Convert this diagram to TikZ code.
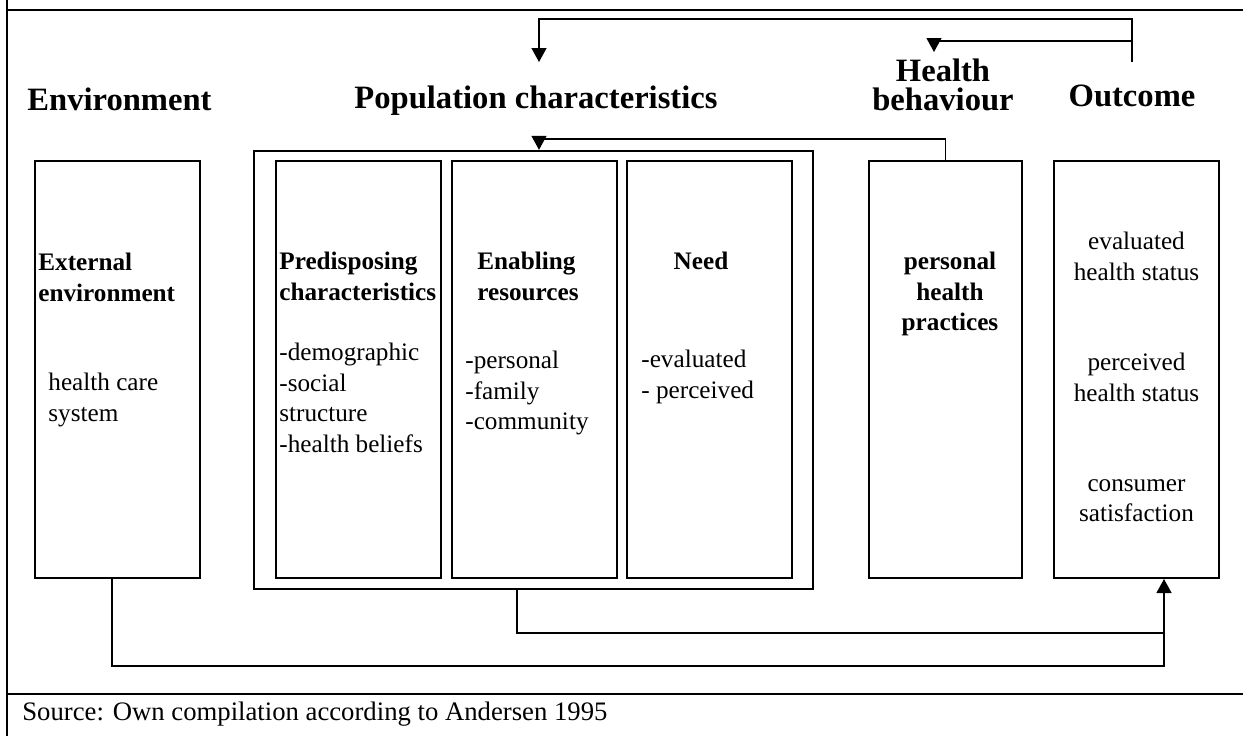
\documentclass[tikz,border=0pt]{standalone}
\usepackage{fontspec}
\setmainfont{Liberation Serif}
\usetikzlibrary{arrows.meta, positioning}

\tikzset{
  colbox/.style={draw, line width=1pt, minimum width=82.5pt, minimum height=208.5pt, inner sep=0pt},
  hdr/.style={font=\fontsize{16.3}{14.6}\selectfont\bfseries, inner sep=0pt, align=center, anchor=north},
  ttl/.style={font=\fontsize{12.6}{15.2}\selectfont\bfseries, inner sep=0pt},
  txt/.style={font=\fontsize{12.6}{15.2}\selectfont, inner sep=0pt},
  link/.style={line width=0.65pt}
}

\begin{document}
\begin{tikzpicture}[x=0.5pt, y=-0.5pt, >={Triangle[width=7.5pt,length=7pt]}]
		\useasboundingbox (0,0) rectangle (1243,736);
		% table frame
		\draw[line width=1pt] (7,0) -- (7,736) (7,10) -- (1243,10) (7,694) -- (1243,694);

		\draw (533.5,370) node[colbox, line width=1.2pt, minimum width=279.5pt, minimum height=219pt] (pop) {}
		(117.5,369.5) node[colbox] (envbox) {}
		(358.5,369.5) node[colbox] (predbox) {}
		(534,369.5) node[colbox] (enabbox) {}
		(709.5,369.5) node[colbox] (needbox) {}
		(945.5,369.5) node[colbox, minimum width=76.5pt] (hbbox) {}
		(1136.5,369.5) node[colbox] (outbox) {};

		\draw (119.5,87.3) node[hdr] (envttl) {Environment}
		(536,85.3) node[hdr] (popttl) {Population characteristics}
		(943,58.3) node[hdr] (hbttl) {Health\\behaviour}
		(1132,84.3) node[hdr] (outttl) {Outcome};

		\draw (38,253) node[ttl, anchor=north west, align=left] (envhead) {External\\environment}
		(48,373) node[txt, anchor=north west, align=left] (envlist) {health care\\system}
		(279,252) node[ttl, anchor=north west, align=left] (predhead) {Predisposing\\characteristics}
		(279,343) node[txt, anchor=north west, align=left] (predlist) {-demographic\\-social\\structure\\-health beliefs}
		(477,252) node[ttl, anchor=north west, align=left] (enabhead) {Enabling\\resources}
		(465,351) node[txt, anchor=north west, align=left] (enablist) {-personal\\-family\\-community}
		(701,252) node[ttl, anchor=north] (needhead) {Need}
		(641,350) node[txt, anchor=north west, align=left] (needlist) {-evaluated\\- perceived}
		(950,252) node[ttl, anchor=north, align=center] (hbhead) {personal\\health\\practices}
		(1136.5,232) node[txt, anchor=north, align=center] (out1) {evaluated\\health status}
		(1136.5,353) node[txt, anchor=north, align=center] (out2) {perceived\\health status}
		(1136.5,479.3) node[txt, anchor=north, align=center] (out3) {consumer\\satisfaction};

		\draw (22,701.6) node[txt, anchor=north west, font=\fontsize{13.35}{16}\selectfont] (src) {Source: Own compilation according to Andersen 1995};

		\coordinate (outtop) at (1132,62);
		\coordinate (outmid) at (1132,41);
		\coordinate (poptip) at (539,62);
		\coordinate (hbtip) at (934,52);
		\coordinate (join) at (1164,633);

		\draw[link,->] (outtop) -- ++(0,-43) -| (poptip);
		\draw[link,->] (outmid) -| (hbtip);
		\draw[link,->] (hbbox.north) -- ++(0,-21) -| ([xshift=2.75pt]pop.north);
		\draw[link,->] ([xshift=-2.75pt]envbox.south) -- ++(0,87) -| ([xshift=13.75pt]outbox.south);
		\draw[link] ([xshift=-8.25pt]pop.south) |- (join);
	\end{tikzpicture}
\end{document}
